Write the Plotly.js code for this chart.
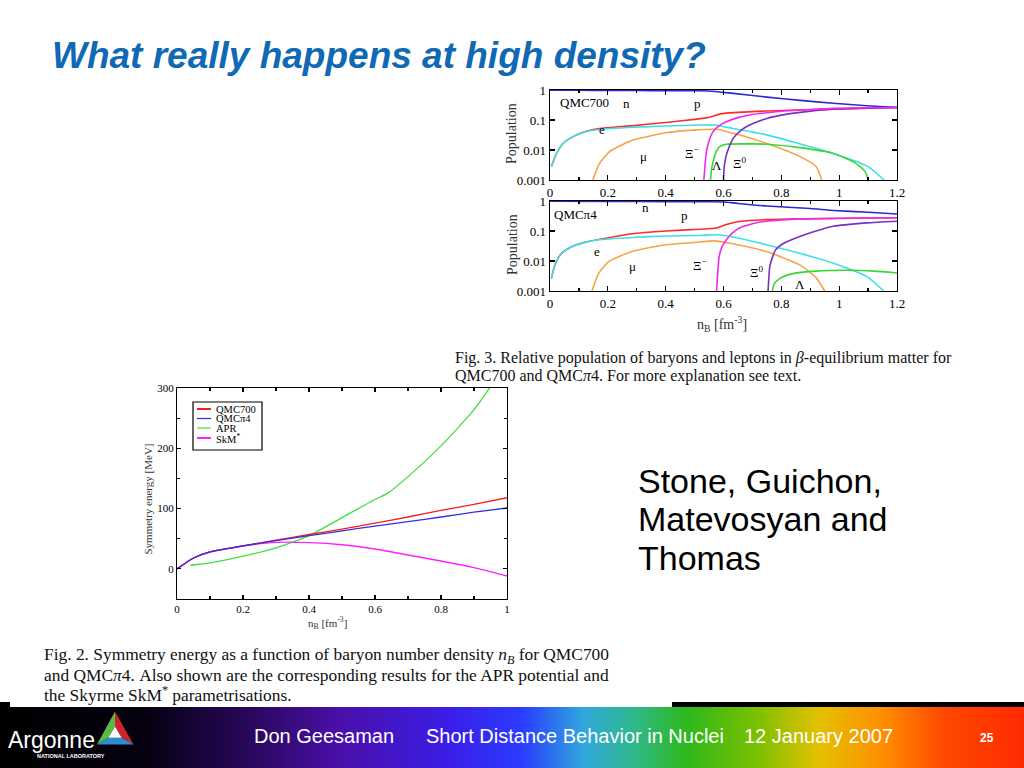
<!DOCTYPE html>
<html><head><meta charset="utf-8">
<script src="https://cdn.plot.ly/plotly-3.0.1.min.js"></script>
<style>
html,body{margin:0;padding:0;background:#fff;width:1024px;height:768px;overflow:hidden;}
#blackbar{position:absolute;left:0;top:702px;width:1024px;height:6px;background:#000;}
#footer{position:absolute;left:0;top:707px;width:1024px;height:61px;
 background:linear-gradient(to right,#000 0%,#050110 14%,#2a0860 25%,#4a0fa8 33%,#3a1ee8 44%,#2b3cff 51%,#30a8dc 57%,#2fb88a 62%,#2db81c 67%,#7cc000 74%,#e4c000 80%,#ff9000 86%,#ff4a00 92%,#ff2a00 100%);}
#capbox{position:absolute;left:10px;top:690px;width:662px;height:17px;background:#fff;}
#chart{position:absolute;left:0;top:0;width:1024px;height:768px;}
</style></head>
<body>
<div id="blackbar"></div><div id="footer"></div><div id="capbox"></div>
<div id="chart"></div>
<script>
// ---------- Panel 1: QMC700 populations ----------
const q7_n_x = [0, 0.1, 0.2, 0.3, 0.4, 0.5, 0.55, 0.634, 0.75, 0.865, 0.98, 1.096, 1.2];
const q7_n_y = [0.99, 0.98, 0.97, 0.96, 0.95, 0.94, 0.93, 0.77, 0.58, 0.45, 0.36, 0.30, 0.26];
const q7_p_x = [0.005, 0.02, 0.045, 0.08, 0.125, 0.17, 0.29, 0.40, 0.5, 0.54, 0.56, 0.59, 0.65, 0.75, 0.9, 1.05, 1.2];
const q7_p_y = [0.0028, 0.0068, 0.0165, 0.028, 0.042, 0.052, 0.065, 0.083, 0.105, 0.118, 0.13, 0.16, 0.18, 0.2, 0.22, 0.24, 0.26];
const q7_e_x = [0.005, 0.02, 0.045, 0.08, 0.125, 0.17, 0.29, 0.40, 0.52, 0.57, 0.63, 0.75, 0.86, 0.98, 1.10, 1.155];
const q7_e_y = [0.0028, 0.0068, 0.0165, 0.028, 0.041, 0.048, 0.057, 0.063, 0.068, 0.068, 0.053, 0.032, 0.0165, 0.0077, 0.0028, 0.001];
const q7_mu_x = [0.148, 0.171, 0.206, 0.25, 0.287, 0.35, 0.40, 0.495, 0.576, 0.634, 0.75, 0.865, 0.92, 0.94];
const q7_mu_y = [0.001, 0.0036, 0.0088, 0.015, 0.0215, 0.03, 0.0376, 0.046, 0.049, 0.036, 0.0165, 0.006, 0.0028, 0.001];
const q7_xim_x = [0.532, 0.536, 0.541, 0.55, 0.564, 0.585, 0.61, 0.65, 0.69, 0.75, 0.81, 0.9, 0.98, 1.1, 1.2];
const q7_xim_y = [0.001, 0.003, 0.0088, 0.02, 0.041, 0.065, 0.088, 0.12, 0.147, 0.175, 0.2, 0.225, 0.245, 0.255, 0.26];
const q7_lam_x = [0.555, 0.558, 0.564, 0.575, 0.587, 0.61, 0.7, 0.75, 0.865, 0.98, 1.05, 1.09, 1.10];
const q7_lam_y = [0.001, 0.002, 0.004, 0.009, 0.0129, 0.0155, 0.016, 0.0155, 0.012, 0.0077, 0.004, 0.0019, 0.001];
const q7_xi0_x = [0.60, 0.603, 0.61, 0.62, 0.633, 0.66, 0.69, 0.75, 0.8, 0.865, 0.98, 1.1, 1.2];
const q7_xi0_y = [0.001, 0.003, 0.0068, 0.013, 0.024, 0.045, 0.068, 0.113, 0.145, 0.18, 0.227, 0.25, 0.26];

// ---------- Panel 2: QMCpi4 populations ----------
const q4_n_x = [0, 0.2, 0.4, 0.56, 0.6, 0.65, 0.75, 0.9, 0.98, 1.1, 1.2];
const q4_n_y = [0.99, 0.97, 0.95, 0.94, 0.93, 0.83, 0.68, 0.56, 0.485, 0.42, 0.37];
const q4_p_x = [0.005, 0.017, 0.04, 0.075, 0.12, 0.168, 0.284, 0.40, 0.516, 0.575, 0.61, 0.66, 0.75, 0.9, 1.05, 1.2];
const q4_p_y = [0.0026, 0.0074, 0.018, 0.030, 0.042, 0.052, 0.081, 0.100, 0.115, 0.125, 0.165, 0.21, 0.24, 0.255, 0.265, 0.275];
const q4_e_x = [0.005, 0.017, 0.04, 0.075, 0.12, 0.168, 0.284, 0.40, 0.516, 0.58, 0.632, 0.748, 0.864, 0.98, 1.096, 1.154];
const q4_e_y = [0.0026, 0.0074, 0.018, 0.030, 0.041, 0.051, 0.061, 0.068, 0.071, 0.075, 0.063, 0.035, 0.018, 0.0084, 0.003, 0.001];
const q4_mu_x = [0.145, 0.168, 0.203, 0.284, 0.40, 0.516, 0.568, 0.632, 0.748, 0.864, 0.92, 0.95];
const q4_mu_y = [0.001, 0.0038, 0.0095, 0.0206, 0.0347, 0.043, 0.047, 0.0375, 0.0206, 0.0074, 0.0028, 0.001];
const q4_xim_x = [0.576, 0.58, 0.585, 0.595, 0.61, 0.63, 0.655, 0.7, 0.748, 0.8, 0.864, 1.0, 1.2];
const q4_xim_y = [0.001, 0.004, 0.014, 0.03, 0.051, 0.085, 0.126, 0.175, 0.212, 0.235, 0.254, 0.265, 0.275];
const q4_xi0_x = [0.754, 0.757, 0.76, 0.77, 0.78, 0.81, 0.864, 0.92, 0.98, 1.096, 1.2];
const q4_xi0_y = [0.001, 0.003, 0.0065, 0.014, 0.0235, 0.04, 0.066, 0.1, 0.144, 0.186, 0.212];
const q4_lam_x = [0.769, 0.775, 0.794, 0.84, 0.92, 1.04, 1.12, 1.2];
const q4_lam_y = [0.001, 0.0017, 0.0026, 0.0038, 0.0046, 0.0049, 0.0046, 0.0040];

// ---------- Symmetry energy ----------
const nB = [0, 0.05, 0.1, 0.2, 0.3, 0.4, 0.5, 0.6, 0.7, 0.8, 0.9, 1.0];
const esym_qmc700 = [0, 18, 28, 38, 47.5, 57, 66, 76, 86, 97, 107, 118];
const esym_qmcpi4 = [0, 18, 28, 38, 47, 55, 63, 71, 78.5, 86, 94, 101];
const esym_skm = [0, 18, 28, 38, 44, 43.5, 40, 33, 23, 13, 2, -12];
const nB_apr = [0.04, 0.1, 0.2, 0.3, 0.4, 0.5, 0.6, 0.64, 0.7, 0.8, 0.9, 0.96];
const esym_apr = [6, 10, 21, 35, 55, 85, 115, 126, 153, 204, 264, 310];
const legendNames = ['QMC700', 'QMC\u03c04', 'APR', 'SkM*'];

const popTicks = [0.001, 0.01, 0.1, 1];
const popTickText = ['0.001', '0.01', '0.1', '1'];
const nTicks = [0, 0.2, 0.4, 0.6, 0.8, 1, 1.2];
const nTickText = ['0', '0.2', '0.4', '0.6', '0.8', '1', '1.2'];
const sTicksX = [0, 0.2, 0.4, 0.6, 0.8, 1];
const sTickTextX = ['0', '0.2', '0.4', '0.6', '0.8', '1'];
const sTicksY = [0, 100, 200, 300];
const sTickTextY = ['0', '100', '200', '300'];

const SERIF = 'Liberation Serif, Times New Roman, serif';
const SANS = 'Liberation Sans, Arial, sans-serif';
const C = {n:'#2a2ad0', p:'#ff2a2a', e:'#3ae0ea', mu:'#f7a347', xim:'#ee2aee', lam:'#35d835', xi0:'#7a30c0'};
const px = v => v / 1024;
const py = v => 1 - v / 768;

function line(x, y, color, xa, ya, w) {
  return {x, y, type:'scatter', mode:'lines', xaxis:xa, yaxis:ya,
    line:{color, width:w, shape:'spline', smoothing:0.6}, hoverinfo:'skip', showlegend:false};
}
const traces = [
  line(q7_n_x, q7_n_y, C.n, 'x', 'y', 1.6),
  line(q7_p_x, q7_p_y, C.p, 'x', 'y', 1.6),
  line(q7_e_x, q7_e_y, C.e, 'x', 'y', 1.6),
  line(q7_mu_x, q7_mu_y, C.mu, 'x', 'y', 1.6),
  line(q7_lam_x, q7_lam_y, C.lam, 'x', 'y', 1.6),
  line(q7_xi0_x, q7_xi0_y, C.xi0, 'x', 'y', 1.6),
  line(q7_xim_x, q7_xim_y, C.xim, 'x', 'y', 1.6),
  line(q4_n_x, q4_n_y, C.n, 'x2', 'y2', 1.6),
  line(q4_p_x, q4_p_y, C.p, 'x2', 'y2', 1.6),
  line(q4_e_x, q4_e_y, C.e, 'x2', 'y2', 1.6),
  line(q4_mu_x, q4_mu_y, C.mu, 'x2', 'y2', 1.6),
  line(q4_lam_x, q4_lam_y, C.lam, 'x2', 'y2', 1.6),
  line(q4_xi0_x, q4_xi0_y, C.xi0, 'x2', 'y2', 1.6),
  line(q4_xim_x, q4_xim_y, C.xim, 'x2', 'y2', 1.6),
  line(nB_apr, esym_apr, '#3ee03e', 'x3', 'y3', 1.3),
  line(nB, esym_skm, '#ff20ff', 'x3', 'y3', 1.4),
  line(nB, esym_qmc700, '#ff1a1a', 'x3', 'y3', 1.3),
  line(nB, esym_qmcpi4, '#3030e0', 'x3', 'y3', 1.3)
];

function frameAxis(extra) {
  return Object.assign({showline:true, linecolor:'#000', linewidth:1.3, mirror:'ticks',
    ticks:'inside', ticklen:5, tickwidth:1.2, tickcolor:'#000', showgrid:false, zeroline:false,
    fixedrange:true, tickfont:{family:SERIF, size:13, color:'#000'}}, extra);
}
const layout = {
  width:1024, height:768, autosize:false, margin:{l:0, r:0, t:0, b:0},
  paper_bgcolor:'rgba(0,0,0,0)', plot_bgcolor:'rgba(0,0,0,0)', showlegend:false,
  xaxis: frameAxis({domain:[px(550), px(897)], range:[0, 1.2], anchor:'y', tickvals:nTicks, ticktext:nTickText,
    minor:{ticks:'inside', dtick:0.1, ticklen:3, tickcolor:'#000'}}),
  yaxis: frameAxis({domain:[py(180), py(90)], type:'log', range:[-3, 0], anchor:'x', tickvals:popTicks, ticktext:popTickText}),
  xaxis2: frameAxis({domain:[px(550), px(897)], range:[0, 1.2], anchor:'y2', tickvals:nTicks, ticktext:nTickText,
    minor:{ticks:'inside', dtick:0.1, ticklen:3, tickcolor:'#000'}}),
  yaxis2: frameAxis({domain:[py(291), py(201)], type:'log', range:[-3, 0], anchor:'x2', tickvals:popTicks, ticktext:popTickText}),
  xaxis3: frameAxis({domain:[px(177), px(507)], range:[0, 1], anchor:'y3', tickvals:sTicksX, ticktext:sTickTextX,
    linewidth:1, ticklen:4, tickfont:{family:SERIF, size:11, color:'#000'},
    minor:{ticks:'inside', dtick:0.1, ticklen:3, tickcolor:'#000'}}),
  yaxis3: frameAxis({domain:[py(599), py(388)], range:[-50, 300], anchor:'x3', tickvals:sTicksY, ticktext:sTickTextY,
    linewidth:1, ticklen:4, tickfont:{family:SERIF, size:11, color:'#000'},
    minor:{ticks:'inside', tickvals:[-50, 50, 150, 250], ticklen:3, tickcolor:'#000'}}),
  shapes: [],
  annotations: []
};

const A = layout.annotations;
function txt(text, x, y, o) {
  A.push(Object.assign({text, x, y, xref:'paper', yref:'paper', showarrow:false,
    xanchor:'left', yanchor:'middle', font:{family:SERIF, size:13, color:'#000'}}, o || {}));
}
// Title
txt('<b><i>What really happens at high density?</i></b>', px(50), py(55),
  {font:{family:SANS, size:37, color:'#0f69b4'}});
// Right text
txt('Stone, Guichon,', px(636), py(481), {font:{family:SANS, size:34, color:'#000'}});
txt('Matevosyan and', px(636), py(519), {font:{family:SANS, size:34, color:'#000'}});
txt('Thomas', px(636), py(558), {font:{family:SANS, size:34, color:'#000'}});
// Fig.3 caption
txt('Fig. 3. Relative population of baryons and leptons in <i>\u03b2</i>-equilibrium matter for', px(453), py(358), {font:{family:SERIF, size:16, color:'#111'}});
txt('QMC700 and QMC<i>\u03c0</i>4. For more explanation see text.', px(453), py(376), {font:{family:SERIF, size:16, color:'#111'}});
// Fig.2 caption
txt('Fig. 2. Symmetry energy as a function of baryon number density <i>n<sub>B</sub></i> for QMC700', px(42), py(655), {font:{family:SERIF, size:17.4, color:'#111'}});
txt('and QMC<i>\u03c0</i>4. Also shown are the corresponding results for the APR potential and', px(42), py(675), {font:{family:SERIF, size:17.4, color:'#111'}});
txt('the Skyrme SkM<sup>*</sup> parametrisations.', px(42), py(694), {font:{family:SERIF, size:17.4, color:'#111'}});
// Axis titles
txt('Population', px(512), py(134), {xanchor:'center', textangle:-90, font:{family:SERIF, size:14, color:'#333'}});
txt('Population', px(512), py(245), {xanchor:'center', textangle:-90, font:{family:SERIF, size:14, color:'#333'}});
txt('n<sub>B</sub> [fm<sup>-3</sup>]', px(722), py(324), {xanchor:'center', font:{family:SERIF, size:14, color:'#333'}});
txt('Symmetry energy [MeV]', px(147.5), py(499), {xanchor:'center', textangle:-90, font:{family:SERIF, size:11, color:'#333'}});
txt('n<sub>B</sub> [fm<sup>-3</sup>]', px(327), py(623), {xanchor:'center', font:{family:SERIF, size:11, color:'#333'}});

// In-panel labels
function lab(text, x, ly, xa, ya, size) {
  A.push({text, x, y:ly, xref:xa, yref:ya, showarrow:false, xanchor:'center', yanchor:'middle',
    font:{family:SERIF, size:size || 13, color:'#000'}});
}
lab('QMC700', 0.12, -0.41, 'x', 'y');
lab('n', 0.264, -0.44, 'x', 'y');
lab('p', 0.509, -0.44, 'x', 'y');
lab('e', 0.18, -1.33, 'x', 'y');
lab('\u03bc', 0.325, -2.22, 'x', 'y');
lab('\u039e<sup>\u2212</sup>', 0.49, -2.11, 'x', 'y');
lab('\u039b', 0.578, -2.5, 'x', 'y');
lab('\u039e<sup>0</sup>', 0.655, -2.44, 'x', 'y');
lab('QMC\u03c04', 0.087, -0.45, 'x2', 'y2');
lab('n', 0.33, -0.22, 'x2', 'y2');
lab('p', 0.464, -0.48, 'x2', 'y2');
lab('e', 0.163, -1.69, 'x2', 'y2');
lab('\u03bc', 0.284, -2.17, 'x2', 'y2');
lab('\u039e<sup>\u2212</sup>', 0.518, -2.13, 'x2', 'y2');
lab('\u039e<sup>0</sup>', 0.713, -2.36, 'x2', 'y2');
lab('\u039b', 0.864, -2.78, 'x2', 'y2');

// Manual compact legend for the symmetry-energy plot
const legColors = ['#ff1a1a', '#3030e0', '#3ee03e', '#ff20ff'];
const legRows = [409, 418.5, 428, 438];
const S = layout.shapes;
S.push({type:'rect', xref:'paper', yref:'paper', x0:px(193), x1:px(262), y0:py(450), y1:py(402),
  line:{color:'#000', width:1.2}, fillcolor:'#fff', layer:'below'});
legendNames.forEach((nm, i) => {
  S.push({type:'line', xref:'paper', yref:'paper', x0:px(197), x1:px(211), y0:py(legRows[i]), y1:py(legRows[i]),
    line:{color:legColors[i], width:i === 0 || i === 3 ? 2 : 1.2}});
  txt(nm === 'SkM*' ? 'SkM<sup>*</sup>' : nm, px(214), py(legRows[i]), {font:{family:SERIF, size:10.5, color:'#000'}});
});

// Footer text
const FOOT = 'Liberation Sans Narrow, Liberation Sans, Arial, sans-serif';
txt('Don Geesaman', px(252), py(736), {font:{family:FOOT, size:20, color:'#fff'}});
txt('Short Distance Behavior in Nuclei', px(424), py(736), {font:{family:FOOT, size:20, color:'#fff'}});
txt('12 January 2007', px(742), py(736), {font:{family:FOOT, size:20, color:'#fff'}});
txt('<b>25</b>', px(978), py(738), {font:{family:SANS, size:12, color:'#fff'}});
// Argonne logo
txt('Argonne', px(6), py(740), {font:{family:SANS, size:23, color:'#fff'}});
txt('<b>NATIONAL LABORATORY</b>', px(35), py(756), {font:{family:SANS, size:5.5, color:'#fff'}});
const P = (x, y) => px(x).toFixed(4) + ',' + py(y).toFixed(4);
const tA = [115, 711.5], tL = [97, 744.5], tR = [133.5, 744.5], iA = [115, 726.5], iL = [108.3, 737.7], iR = [121.7, 737.7];
function poly(pts, color) {
  S.push({type:'path', xref:'paper', yref:'paper', path:'M' + pts.map(p => P(p[0], p[1])).join(' L') + ' Z',
    fillcolor:color, line:{width:0}});
}
poly([tA, tL, iL, iA], '#5cb946');
poly([tA, tR, iR, iA], '#d0242c');
poly([tL, tR, iR, iL], '#2a8ed2');
poly([iA, iL, iR], '#ffffff');

Plotly.newPlot('chart', traces, layout, {staticPlot:true, displayModeBar:false});
</script>
</body></html>
